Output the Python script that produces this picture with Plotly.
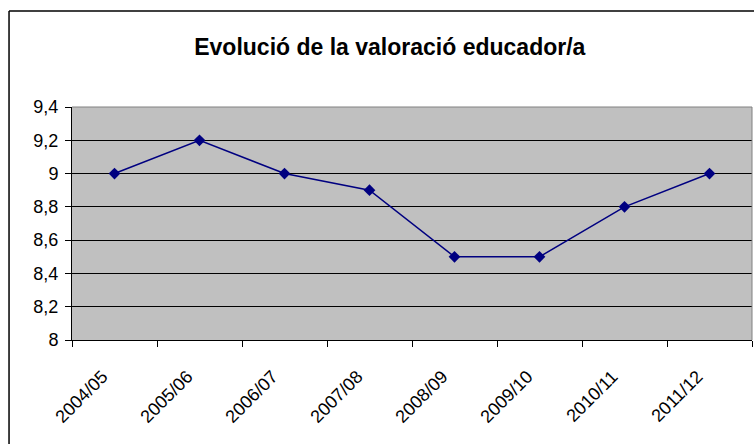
import plotly.graph_objects as go

categories = ["2004/05", "2005/06", "2006/07", "2007/08", "2008/09", "2009/10", "2010/11", "2011/12"]
values = [9.0, 9.2, 9.0, 8.9, 8.5, 8.5, 8.8, 9.0]
y_ticks = [8.0, 8.2, 8.4, 8.6, 8.8, 9.0, 9.2, 9.4]
y_labels = ["8", "8,2", "8,4", "8,6", "8,8", "9", "9,2", "9,4"]
title_text = "Evolució de la valoració educador/a"

FONT = "Liberation Sans, Arial, sans-serif"

fig = go.Figure()
fig.add_trace(go.Scatter(
    x=categories, y=values, mode="lines+markers",
    line=dict(color="#000080", width=1.5),
    marker=dict(symbol="diamond", size=9, color="#000080"),
    showlegend=False, cliponaxis=False,
))

fig.update_layout(
    width=754, height=444,
    margin=dict(l=72, r=2, t=107, b=104),
    paper_bgcolor="white",
    plot_bgcolor="#C0C0C0",
    font=dict(family=FONT, color="black", size=18),
    title=dict(text="<b>" + title_text + "</b>", x=0.517, xanchor="center",
               y=0.894, yanchor="middle",
               font=dict(size=23, family=FONT, color="black")),
    xaxis=dict(
        type="category", tickson="boundaries", ticks="outside", ticklen=6,
        tickcolor="black", showgrid=False, showline=True, linecolor="black",
        linewidth=1, tickangle=-45, tickfont=dict(size=18), zeroline=False,
        range=[-0.5, 7.5], ticklabelstandoff=18, ticklabelshift=-12,
    ),
    yaxis=dict(
        range=[8.0, 9.4], tickvals=y_ticks, ticktext=y_labels,
        ticks="outside", ticklen=6, tickcolor="black",
        showgrid=True, gridcolor="black", gridwidth=1,
        showline=True, linecolor="black", linewidth=1, zeroline=False,
        tickfont=dict(size=18), ticklabelstandoff=3,
    ),
    shapes=[
        dict(type="line", xref="paper", yref="paper", x0=0, x1=1, y0=1, y1=1,
             line=dict(color="#808080", width=1)),
        dict(type="line", xref="paper", yref="paper", x0=1, x1=1, y0=0, y1=1,
             line=dict(color="#808080", width=1)),
        dict(type="line", xref="paper", yref="paper", x0=-0.0926, x1=1.02, y0=1.412, y1=1.412,
             line=dict(color="black", width=1.5)),
        dict(type="line", xref="paper", yref="paper", x0=-0.0926, x1=-0.0926, y0=1.412, y1=-0.5,
             line=dict(color="black", width=1.5)),
    ],
)

fig.write_html("out.html", config={"displayModeBar": False},
               post_script="document.body.style.margin='0';document.body.style.overflow='hidden';")
